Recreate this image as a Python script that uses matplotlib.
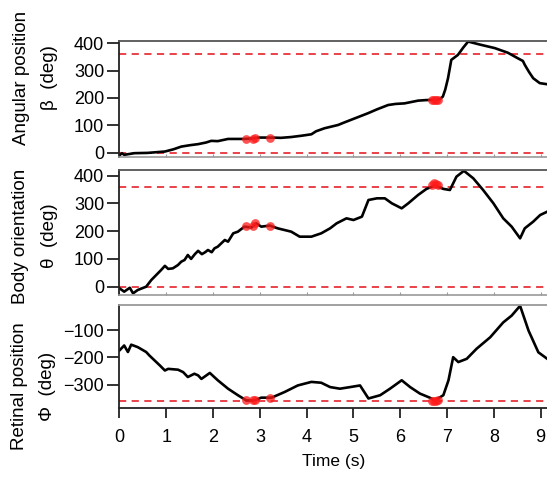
import matplotlib
matplotlib.use("Agg")
import matplotlib.pyplot as plt

plt.rcParams['font.family'] = ['Liberation Sans', 'DejaVu Sans']

# ---- data ----
# panel 1: angular position beta (deg)
beta_t = [0.00, 0.05, 0.10, 0.32, 0.60, 0.97, 1.15, 1.32, 1.50, 1.68, 1.85, 1.96,
          2.10, 2.32, 2.50, 2.67, 2.85, 2.96, 3.25, 3.45, 3.67, 3.90, 4.10, 4.20,
          4.38, 4.67, 4.80, 4.95, 5.10, 5.31, 5.50, 5.74, 5.90, 6.09, 6.38, 6.55,
          6.73, 6.85, 6.91, 6.96, 7.02, 7.09, 7.23, 7.35, 7.45, 7.70, 8.02, 8.30,
          8.51, 8.62, 8.66, 8.75, 8.84, 8.98, 9.14]
beta = [-10, -2, -8, -2, -1, 4, 12, 22, 27, 31, 37, 43,
        42, 50, 50, 50, 52, 55, 55, 54, 57, 62, 67, 78,
        89, 101, 110, 120, 130, 144, 158, 174, 178, 180, 190, 192,
        193, 196, 205, 230, 272, 339, 357, 385, 406, 395, 382, 365,
        345, 335, 321, 295, 272, 254, 250]

# panel 2: body orientation theta (deg)
theta_t = [0.00, 0.10, 0.22, 0.29, 0.39, 0.57, 0.68, 0.82, 0.89, 0.97, 1.04, 1.14,
           1.25, 1.32, 1.39, 1.46, 1.53, 1.61, 1.68, 1.76, 1.83, 1.89, 1.97, 2.03,
           2.10, 2.25, 2.32, 2.43, 2.53, 2.67, 2.82, 2.92, 3.03,
           3.21, 3.38, 3.67, 3.85, 4.10, 4.31, 4.50, 4.64, 4.85, 5.00, 5.18, 5.32,
           5.50, 5.67, 5.82, 6.03, 6.17, 6.38, 6.56, 6.74, 6.92, 7.06, 7.20, 7.36,
           7.56, 7.77, 7.99, 8.20, 8.38, 8.56, 8.66, 8.84, 8.99, 9.14]
theta = [-6, -18, -4, -24, -12, 0, 24, 48, 60, 75, 64, 66,
         78, 90, 96, 114, 100, 117, 129, 117, 124, 132, 124, 138,
         144, 168, 162, 192, 198, 216, 213, 228, 216,
         220, 210, 198, 180, 180, 192, 210, 228, 246, 240, 252, 312,
         318, 318, 300, 282, 300, 330, 352, 364, 352, 348, 396, 417,
         390, 348, 300, 246, 216, 174, 210, 234, 258, 270]

# panel 3: retinal position phi (deg)
phi_t = [0.00, 0.10, 0.18, 0.25, 0.39, 0.57, 0.64, 0.75, 0.86, 0.97, 1.04, 1.25,
         1.36, 1.46, 1.60, 1.68, 1.75, 1.93, 2.10, 2.32, 2.53, 2.71, 2.88, 3.03,
         3.25, 3.53, 3.81, 4.10, 4.31, 4.50, 4.71, 4.93, 5.14, 5.32, 5.57, 5.78,
         6.03, 6.21, 6.42, 6.63, 6.74, 6.92, 7.03, 7.13, 7.24, 7.42, 7.63, 7.92,
         8.20, 8.38, 8.56, 8.74, 8.95, 9.14]
phi = [-174, -156, -180, -153, -162, -180, -193, -211, -229, -248, -242, -245,
       -254, -272, -260, -266, -279, -257, -284, -315, -339, -358, -358, -348,
       -348, -327, -303, -290, -293, -309, -315, -309, -303, -351, -339, -315,
       -284, -309, -333, -348, -358, -339, -284, -199, -217, -205, -168, -126,
       -71, -46, -10, -101, -181, -205]

# red event markers
mark_t = [2.70, 2.86, 2.90, 3.21, 6.68, 6.72, 6.76, 6.80]
mark_beta = [48, 50, 54, 54, 192, 193, 193, 194]
mark_theta = [218, 220, 228, 220, 366, 372, 370, 366]
mark_phi = [-358, -357, -358, -350, -360, -362, -360, -358]

ylabels = [("Angular position", "\u03b2  (deg)"),
           ("Body orientation", "\u03b8  (deg)"),
           ("Retinal position", "\u03a6  (deg)")]

fig = plt.figure(figsize=(5.47, 4.80), dpi=100)

W, H = 547, 480
def box(top, bottom):
    left = 119.5
    return [left / W, (H - bottom) / H, (W - left) / W, (bottom - top) / H]

ax1 = fig.add_axes(box(41, 157))
ax2 = fig.add_axes(box(170, 295))
ax3 = fig.add_axes(box(305, 408))

panels = [
    (ax1, beta_t, beta, mark_beta, [0, 360], (-16, 408), [0, 100, 200, 300, 400]),
    (ax2, theta_t, theta, mark_theta, [0, 360], (-30, 420), [0, 100, 200, 300, 400]),
    (ax3, phi_t, phi, mark_phi, [-360], (-386, -7), [-300, -200, -100]),
]

for ax, t, y, my, refs, ylim, yt in panels:
    for r in refs:
        ax.axhline(r, color='#e8333a', lw=1.3, ls=(0, (4, 3)), zorder=1)
    ax.plot(t, y, color='black', lw=1.9, zorder=2)
    ax.scatter(mark_t, my, s=40, color='#ff1a1a', alpha=0.75, lw=0, zorder=3)
    ax.set_xlim(0, 9.135)
    ax.set_ylim(*ylim)
    ax.set_yticks(yt)
    ax.tick_params(axis='y', direction='out', length=9, width=1.3, pad=2,
                   labelsize=13, color='#222222')
    ax.spines['right'].set_visible(False)
    ax.spines['left'].set_color('#222222')
    ax.spines['left'].set_linewidth(1.3)
    ax.spines['top'].set_color('#555555')
    ax.spines['top'].set_linewidth(1.3)

for ax in (ax1, ax2):
    ax.set_xticks(range(10))
    ax.tick_params(axis='x', direction='in', length=2, labelbottom=False, color='#999999')
    ax.spines['bottom'].set_color('#999999')
    ax.spines['bottom'].set_linewidth(1.2)

ax3.set_xticks(range(10))
ax3.tick_params(axis='x', direction='out', length=7, width=1.3, pad=8,
                labelsize=13, color='#222222')
ax3.spines['bottom'].set_color('#222222')
ax3.spines['bottom'].set_linewidth(1.3)
ax3.spines['top'].set_color('#999999')
ax3.set_xlabel("Time (s)", fontsize=12.5, labelpad=6)

# y labels as two rotated lines
label_pos = [(22, 50, 78), (21, 49, 236), (20, 47, 386)]
for (l1, l2), (x1, x2, yc) in zip(ylabels, label_pos):
    fig.text(x1 / W, 1 - yc / H, l1, rotation=90, ha='center', va='center', fontsize=13.5)
    fig.text(x2 / W, 1 - yc / H, l2, rotation=90, ha='center', va='center', fontsize=13.5)

fig.savefig("out.png", dpi=100)
